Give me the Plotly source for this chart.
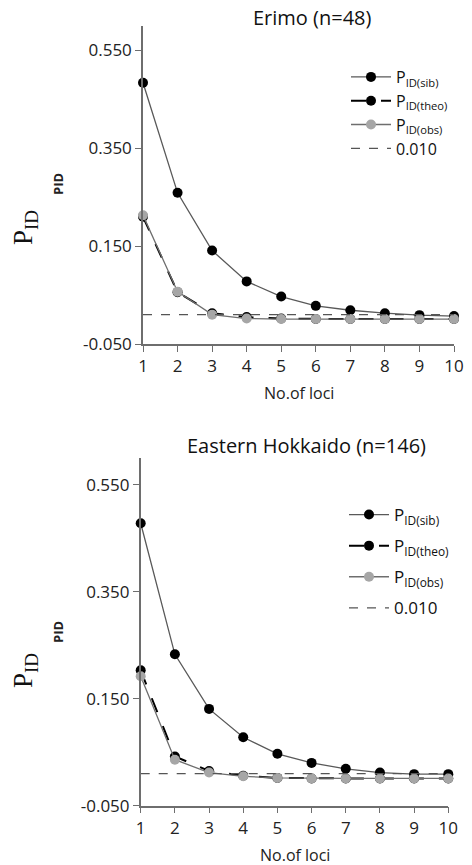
import plotly.graph_objects as go

loci = [1, 2, 3, 4, 5, 6, 7, 8, 9, 10]

erimo_sib = [0.484, 0.259, 0.141, 0.078, 0.047, 0.028, 0.019, 0.013, 0.009, 0.007]
erimo_theo = [0.210, 0.056, 0.013, 0.005, 0.002, 0.001, 0.001, 0.001, 0.001, 0.001]
erimo_obs = [0.213, 0.057, 0.010, 0.002, 0.001, 0.001, 0.001, 0.001, 0.001, 0.001]

east_sib = [0.478, 0.233, 0.131, 0.078, 0.047, 0.030, 0.019, 0.012, 0.009, 0.009]
east_theo = [0.203, 0.042, 0.015, 0.006, 0.002, 0.001, 0.001, 0.001, 0.001, 0.001]
east_obs = [0.192, 0.036, 0.012, 0.005, 0.002, 0.001, 0.001, 0.001, 0.001, 0.001]

threshold = 0.010
threshold_label = "0.010"

titles = ["Erimo (n=48)", "Eastern Hokkaido (n=146)"]
ytick_vals = [-0.05, 0.15, 0.35, 0.55]
ytick_text = ["-0.050", "0.150", "0.350", "0.550"]

W, H = 472, 865
FONT = "Open Sans"


def px(x):
    return x / W


def py(y):
    return 1 - y / H


fig = go.Figure()

panels = [
    dict(sib=erimo_sib, theo=erimo_theo, obs=erimo_obs, xa="x", ya="y", legend="legend"),
    dict(sib=east_sib, theo=east_theo, obs=east_obs, xa="x2", ya="y2", legend="legend2"),
]

for p in panels:
    fig.add_trace(go.Scatter(
        x=loci, y=p["sib"], mode="lines+markers", name="P<sub>ID(sib)</sub>",
        line=dict(color="#595959", width=1.3),
        marker=dict(color="#000000", size=10),
        xaxis=p["xa"], yaxis=p["ya"], legend=p["legend"], legendgroup=p["legend"] + "a",
        cliponaxis=False))
    fig.add_trace(go.Scatter(
        x=loci, y=p["theo"], mode="lines+markers", name="P<sub>ID(theo)</sub>",
        line=dict(color="#000000", width=2, dash="longdash"),
        marker=dict(color="#000000", size=10),
        xaxis=p["xa"], yaxis=p["ya"], legend=p["legend"], legendgroup=p["legend"] + "b",
        cliponaxis=False))
    fig.add_trace(go.Scatter(
        x=loci, y=p["obs"], mode="lines+markers", name="P<sub>ID(obs)</sub>",
        line=dict(color="#6e6e6e", width=1.3),
        marker=dict(color="#a6a6a6", size=10),
        xaxis=p["xa"], yaxis=p["ya"], legend=p["legend"], legendgroup=p["legend"] + "c",
        cliponaxis=False))
    fig.add_trace(go.Scatter(
        x=[loci[0], loci[-1]], y=[threshold, threshold], mode="lines", name=threshold_label,
        line=dict(color="#555555", width=1.3, dash="dash"),
        xaxis=p["xa"], yaxis=p["ya"], legend=p["legend"], legendgroup=p["legend"] + "d",
        cliponaxis=False))

axis_common = dict(showgrid=False, zeroline=False, showline=True, linecolor="#6e6e6e",
                   linewidth=1.5, ticks="outside", ticklen=6, tickcolor="#6e6e6e",
                   automargin=False, tickfont=dict(family=FONT, size=17, color="#222"))

xdoms = [[px(143), px(454)], [px(140.7), px(448.3)]]
ydoms = [[py(344), py(26)], [py(805.7), py(458)]]

for i, (xk, yk) in enumerate([("xaxis", "yaxis"), ("xaxis2", "yaxis2")]):
    fig.layout[xk] = dict(axis_common, domain=xdoms[i], range=[1, 10], tickvals=loci,
                          anchor="y" if i == 0 else "y2")
    fig.layout[yk] = dict(axis_common, domain=ydoms[i], range=[-0.05, 0.6],
                          tickvals=ytick_vals, ticktext=ytick_text,
                          anchor="x" if i == 0 else "x2")

ann = []
title_y = [17, 445]
title_x = [312, 306]
xlab_y = [393, 855]
pid_small_y = [184, 632]
pid_big_y = [228, 671]
for i in range(2):
    ann.append(dict(text=titles[i], x=px(title_x[i]), y=py(title_y[i]),
                    font=dict(family=FONT, size=20, color="#111")))
    ann.append(dict(text="No.of loci", x=(xdoms[i][0] + xdoms[i][1]) / 2, y=py(xlab_y[i]),
                    font=dict(family=FONT, size=16, color="#222")))
    ann.append(dict(text="<b>PID</b>", x=px(58), y=py(pid_small_y[i]), textangle=-90,
                    font=dict(family=FONT, size=13, color="#222")))
    ann.append(dict(text="P<sub>ID</sub>", x=px(25), y=py(pid_big_y[i]), textangle=-90,
                    font=dict(family="Liberation Serif", size=27, color="#111")))
for a in ann:
    a.update(xref="paper", yref="paper", showarrow=False, xanchor="center", yanchor="middle")

fig.update_layout(
    width=W, height=H, margin=dict(l=0, r=0, t=0, b=0),
    paper_bgcolor="white", plot_bgcolor="white", annotations=ann,
    legend=dict(x=px(346), y=py(60), xanchor="left", yanchor="top",
                font=dict(family=FONT, size=16, color="#111"), bgcolor="rgba(0,0,0,0)",
                tracegroupgap=0, itemwidth=40),
    legend2=dict(x=px(344), y=py(497), xanchor="left", yanchor="top",
                 font=dict(family=FONT, size=17, color="#111"), bgcolor="rgba(0,0,0,0)",
                 tracegroupgap=6, itemwidth=40),
    showlegend=True,
)

fig.write_html("out.html", config={"displayModeBar": False},
               post_script="document.body.style.margin='0px';document.body.style.padding='0px';")
